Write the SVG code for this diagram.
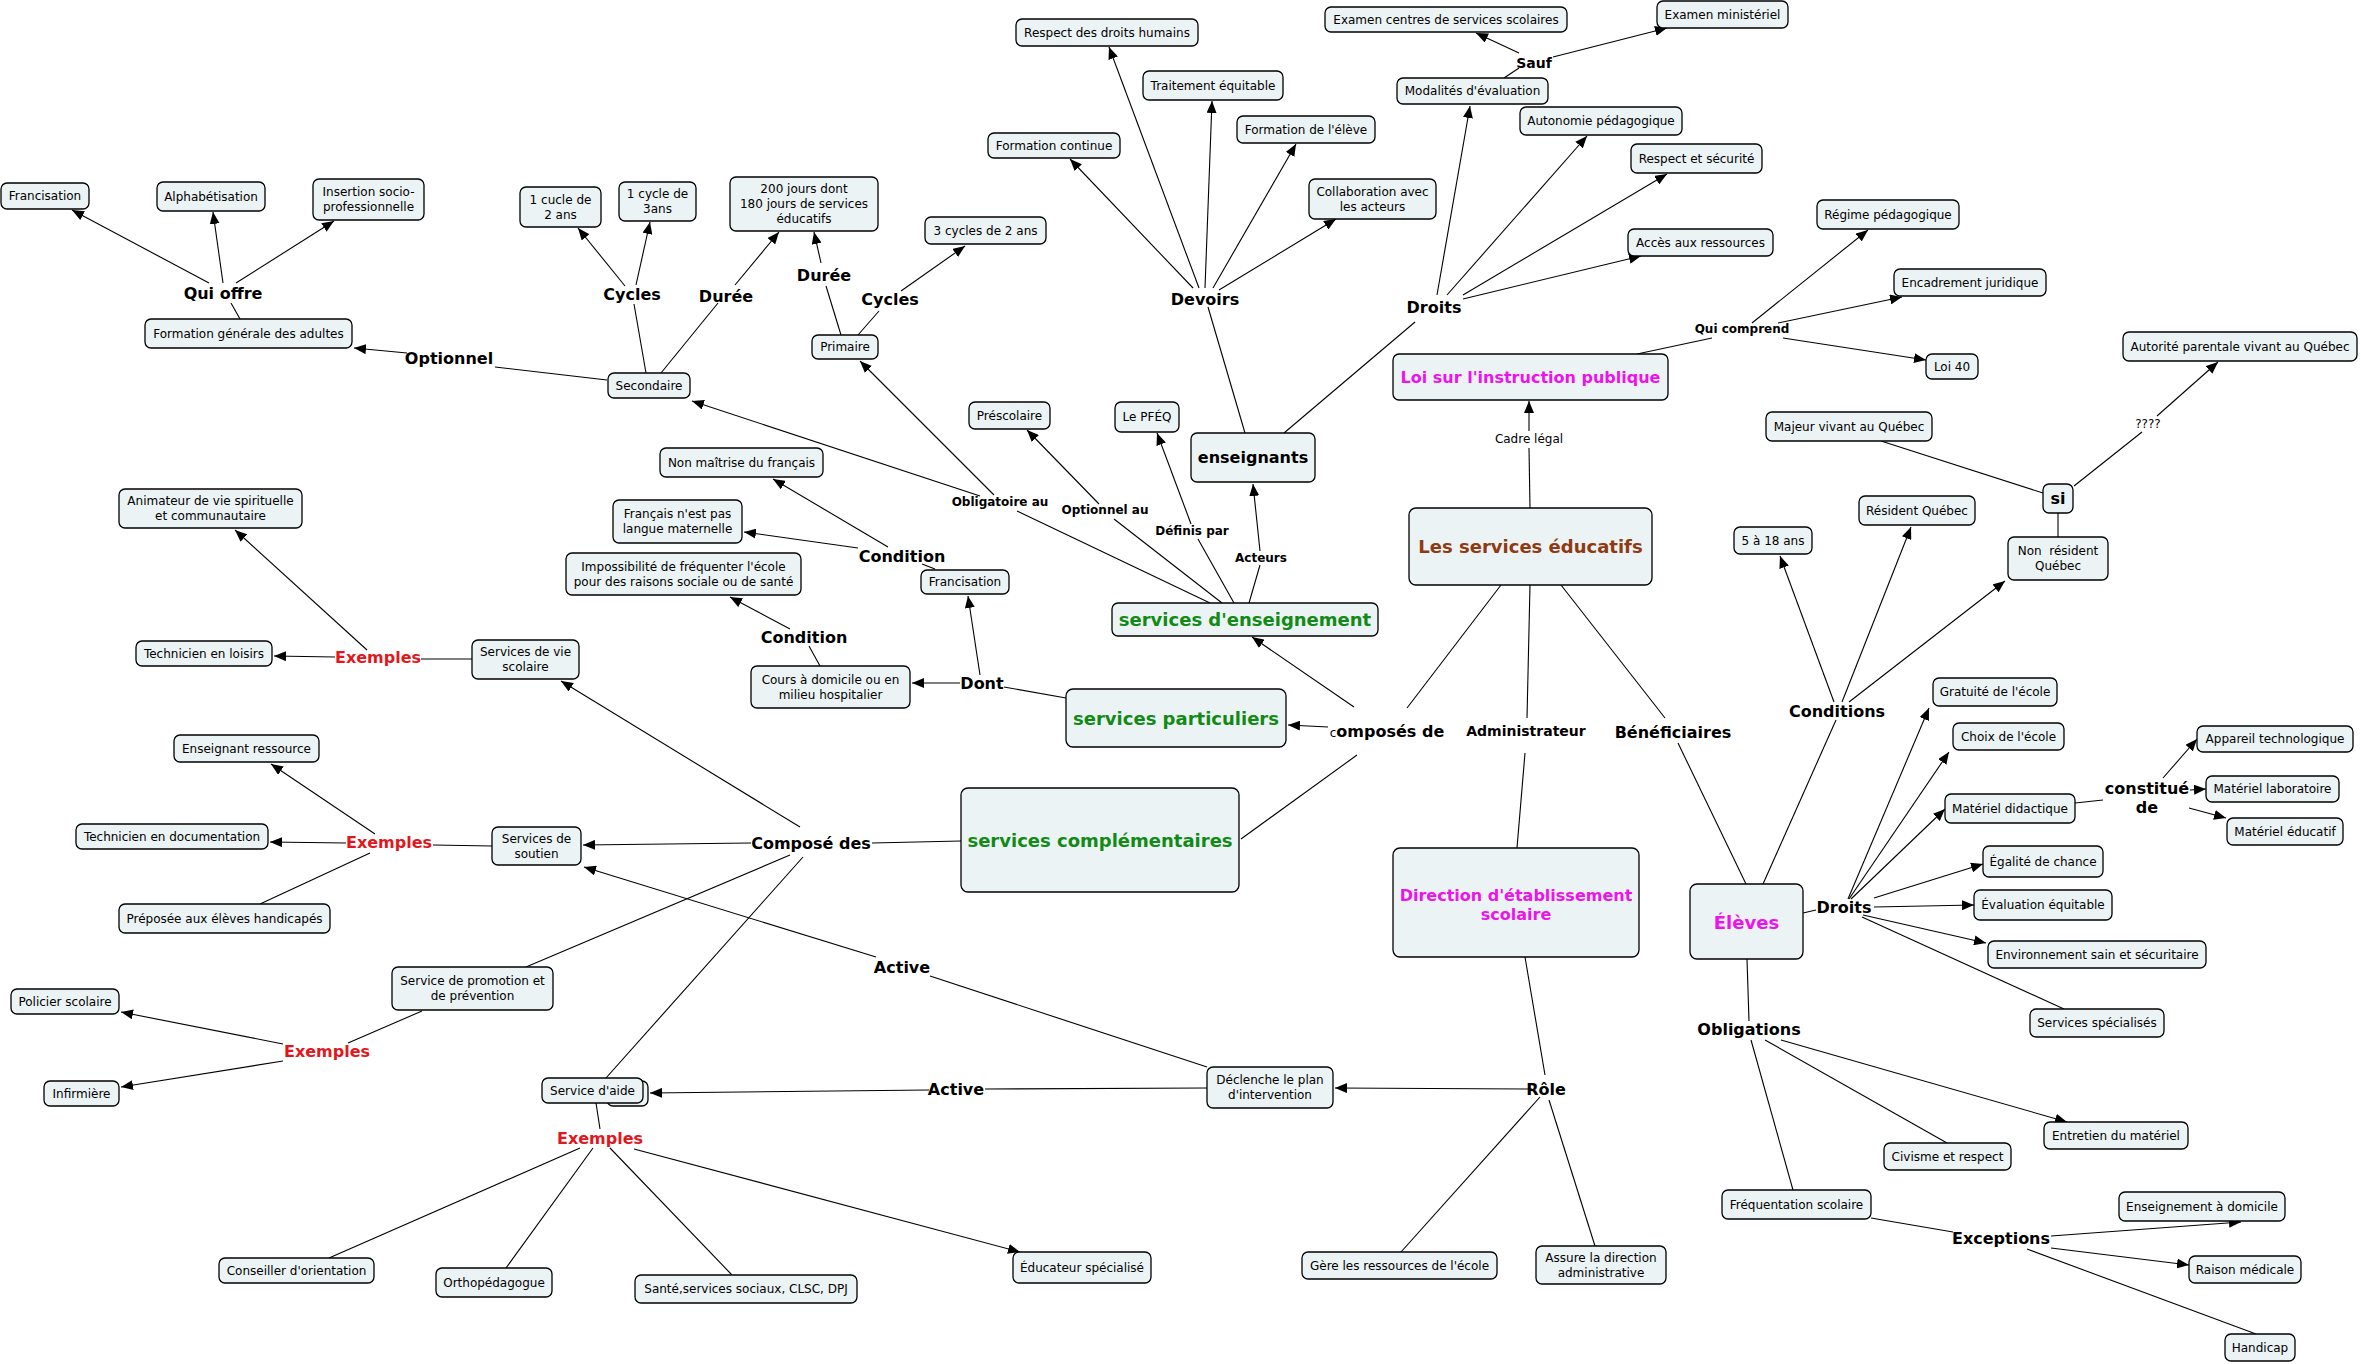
<svg xmlns="http://www.w3.org/2000/svg" width="2361" height="1364" viewBox="0 0 2361 1364">
<defs>
<marker id="ar" markerWidth="12" markerHeight="10" refX="12" refY="5" orient="auto" markerUnits="userSpaceOnUse"><path d="M0,0 L12,5 L0,10 z" fill="#000"/></marker>
</defs>
<style>
.n rect{fill:#ECF3F4;stroke:#000;stroke-width:1.3}
text{font-family:"DejaVu Sans",Verdana,sans-serif;fill:#000;text-anchor:middle}
.t{font-size:12px}
.b{font-weight:bold;font-size:16px}
.s{font-weight:bold;font-size:12px}
.m14{font-weight:bold;font-size:14px}
.h18{font-weight:bold;font-size:18px}
.red{fill:#E3161D}
.grn{fill:#118A16}
.mag{fill:#EE12EE}
.brn{fill:#8F3A12}
.nl{font-size:12px;font-weight:normal}
#connectors line{stroke:#000;stroke-width:1.1}
#connectors line.a{marker-end:url(#ar)}
</style>
<rect width="2361" height="1364" fill="#fff"/>
<g id="connectors">
<line x1="1530" y1="508" x2="1529" y2="448"/>
<line class="a" x1="1529" y1="431" x2="1529" y2="401"/>
<line x1="1501" y1="585" x2="1407" y2="708"/>
<line x1="1530" y1="585" x2="1527" y2="718"/>
<line x1="1561" y1="585" x2="1665" y2="718"/>
<line x1="1678" y1="743" x2="1746" y2="884"/>
<line class="a" x1="1354" y1="707" x2="1252" y2="637"/>
<line class="a" x1="1328" y1="727" x2="1288" y2="725"/>
<line x1="1357" y1="755" x2="1241" y2="839"/>
<line x1="1525" y1="753" x2="1517" y2="848"/>
<line x1="1525" y1="957" x2="1545" y2="1075"/>
<line class="a" x1="1532" y1="1089" x2="1335" y2="1088"/>
<line x1="1540" y1="1097" x2="1401" y2="1252"/>
<line x1="1549" y1="1100" x2="1595" y2="1246"/>
<line x1="1207" y1="1088" x2="985" y2="1089"/>
<line class="a" x1="929" y1="1090" x2="650" y2="1093"/>
<line x1="1207" y1="1067" x2="930" y2="976"/>
<line class="a" x1="876" y1="957" x2="584" y2="867"/>
<line x1="961" y1="841" x2="872" y2="843"/>
<line class="a" x1="751" y1="843" x2="583" y2="845"/>
<line class="a" x1="800" y1="827" x2="561" y2="681"/>
<line x1="790" y1="855" x2="526" y2="967"/>
<line x1="803" y1="857" x2="606" y2="1078"/>
<line x1="472" y1="659" x2="421" y2="659"/>
<line class="a" x1="335" y1="657" x2="274" y2="656"/>
<line class="a" x1="367" y1="650" x2="235" y2="530"/>
<line x1="492" y1="846" x2="433" y2="845"/>
<line class="a" x1="346" y1="843" x2="270" y2="842"/>
<line class="a" x1="375" y1="834" x2="271" y2="764"/>
<line x1="370" y1="853" x2="260" y2="904"/>
<line x1="422" y1="1011" x2="348" y2="1043"/>
<line class="a" x1="283" y1="1044" x2="121" y2="1012"/>
<line class="a" x1="283" y1="1061" x2="121" y2="1087"/>
<line x1="596" y1="1103" x2="600" y2="1129"/>
<line x1="580" y1="1148" x2="329" y2="1258"/>
<line x1="593" y1="1148" x2="506" y2="1268"/>
<line x1="610" y1="1148" x2="732" y2="1275"/>
<line class="a" x1="634" y1="1149" x2="1020" y2="1252"/>
<line x1="1066" y1="698" x2="1004" y2="687"/>
<line class="a" x1="960" y1="683" x2="912" y2="683"/>
<line class="a" x1="980" y1="675" x2="968" y2="596"/>
<line x1="820" y1="666" x2="809" y2="646"/>
<line class="a" x1="790" y1="629" x2="730" y2="597"/>
<line x1="935" y1="569" x2="922" y2="564"/>
<line class="a" x1="858" y1="548" x2="744" y2="532"/>
<line class="a" x1="888" y1="547" x2="773" y2="479"/>
<line x1="1210" y1="603" x2="1017" y2="511"/>
<line class="a" x1="980" y1="496" x2="692" y2="401"/>
<line class="a" x1="994" y1="495" x2="860" y2="361"/>
<line x1="1222" y1="603" x2="1114" y2="519"/>
<line class="a" x1="1099" y1="504" x2="1027" y2="430"/>
<line x1="1234" y1="603" x2="1198" y2="539"/>
<line class="a" x1="1191" y1="524" x2="1157" y2="433"/>
<line x1="1249" y1="603" x2="1260" y2="565"/>
<line class="a" x1="1260" y1="551" x2="1253" y2="484"/>
<line x1="1245" y1="433" x2="1208" y2="307"/>
<line class="a" x1="1193" y1="288" x2="1070" y2="159"/>
<line class="a" x1="1199" y1="288" x2="1109" y2="47"/>
<line class="a" x1="1205" y1="288" x2="1212" y2="101"/>
<line class="a" x1="1213" y1="288" x2="1296" y2="144"/>
<line class="a" x1="1219" y1="290" x2="1336" y2="219"/>
<line x1="1284" y1="433" x2="1415" y2="322"/>
<line class="a" x1="1437" y1="295" x2="1470" y2="106"/>
<line class="a" x1="1447" y1="295" x2="1587" y2="136"/>
<line class="a" x1="1463" y1="295" x2="1667" y2="174"/>
<line class="a" x1="1463" y1="299" x2="1641" y2="256"/>
<line x1="1504" y1="78" x2="1519" y2="68"/>
<line class="a" x1="1519" y1="53" x2="1476" y2="33"/>
<line class="a" x1="1553" y1="57" x2="1667" y2="28"/>
<line x1="1637" y1="354" x2="1712" y2="338"/>
<line class="a" x1="1752" y1="323" x2="1868" y2="230"/>
<line class="a" x1="1778" y1="323" x2="1902" y2="297"/>
<line class="a" x1="1783" y1="338" x2="1926" y2="360"/>
<line x1="1881" y1="441" x2="2043" y2="493"/>
<line x1="2074" y1="486" x2="2142" y2="432"/>
<line class="a" x1="2157" y1="416" x2="2218" y2="362"/>
<line x1="2058" y1="513" x2="2058" y2="537"/>
<line x1="1763" y1="884" x2="1836" y2="720"/>
<line class="a" x1="1834" y1="702" x2="1780" y2="556"/>
<line class="a" x1="1842" y1="702" x2="1911" y2="527"/>
<line class="a" x1="1849" y1="702" x2="2005" y2="581"/>
<line x1="1803" y1="913" x2="1816" y2="910"/>
<line class="a" x1="1848" y1="899" x2="1929" y2="708"/>
<line class="a" x1="1849" y1="899" x2="1949" y2="752"/>
<line class="a" x1="1851" y1="899" x2="1945" y2="809"/>
<line class="a" x1="1874" y1="898" x2="1983" y2="864"/>
<line class="a" x1="1874" y1="907" x2="1974" y2="905"/>
<line class="a" x1="1863" y1="915" x2="1986" y2="943"/>
<line x1="1862" y1="917" x2="2064" y2="1009"/>
<line x1="2075" y1="803" x2="2103" y2="800"/>
<line class="a" x1="2163" y1="778" x2="2197" y2="739"/>
<line class="a" x1="2190" y1="790" x2="2206" y2="789"/>
<line class="a" x1="2189" y1="808" x2="2226" y2="818"/>
<line x1="1747" y1="959" x2="1749" y2="1021"/>
<line class="a" x1="1781" y1="1040" x2="2067" y2="1122"/>
<line x1="1765" y1="1040" x2="1947" y2="1143"/>
<line x1="1751" y1="1040" x2="1793" y2="1190"/>
<line x1="1871" y1="1218" x2="1953" y2="1232"/>
<line class="a" x1="2051" y1="1236" x2="2241" y2="1222"/>
<line class="a" x1="2051" y1="1248" x2="2189" y2="1265"/>
<line x1="2027" y1="1249" x2="2256" y2="1334"/>
<line x1="607" y1="380" x2="495" y2="367"/>
<line class="a" x1="407" y1="353" x2="354" y2="348"/>
<line x1="646" y1="373" x2="634" y2="304"/>
<line class="a" x1="625" y1="286" x2="578" y2="228"/>
<line class="a" x1="636" y1="285" x2="650" y2="222"/>
<line x1="661" y1="373" x2="718" y2="303"/>
<line class="a" x1="735" y1="285" x2="779" y2="232"/>
<line x1="240" y1="319" x2="231" y2="303"/>
<line class="a" x1="209" y1="283" x2="72" y2="210"/>
<line class="a" x1="223" y1="283" x2="213" y2="212"/>
<line class="a" x1="236" y1="283" x2="334" y2="221"/>
<line x1="841" y1="335" x2="826" y2="286"/>
<line class="a" x1="821" y1="263" x2="814" y2="232"/>
<line x1="858" y1="335" x2="879" y2="311"/>
<line class="a" x1="901" y1="291" x2="965" y2="246"/>
</g>
<g id="nodes">
<g id="n-francisation1" class="n"><rect x="1" y="183" width="88" height="26" rx="6"/><text class="t" x="45" y="200.3">Francisation</text></g>
<g id="n-alpha" class="n"><rect x="157" y="182" width="108" height="29" rx="6"/><text class="t" x="211" y="200.8">Alphabétisation</text></g>
<g id="n-insertion" class="n"><rect x="313" y="179" width="111" height="41" rx="6"/><text class="t" x="368.5" y="196.3">Insertion socio-</text><text class="t" x="368.5" y="211.3">professionnelle</text></g>
<g id="n-fga" class="n"><rect x="145" y="319" width="207" height="29" rx="6"/><text class="t" x="248.5" y="337.8">Formation générale des adultes</text></g>
<g id="n-secondaire" class="n"><rect x="608" y="373" width="82" height="25" rx="6"/><text class="t" x="649" y="389.8">Secondaire</text></g>
<g id="n-1cucle" class="n"><rect x="520" y="187" width="81" height="40" rx="6"/><text class="t" x="560.5" y="203.8">1 cucle de</text><text class="t" x="560.5" y="218.8">2 ans</text></g>
<g id="n-1cycle3" class="n"><rect x="619" y="182" width="77" height="39" rx="6"/><text class="t" x="657.5" y="198.3">1 cycle de</text><text class="t" x="657.5" y="213.3">3ans</text></g>
<g id="n-200jours" class="n"><rect x="730" y="177" width="148" height="54" rx="6"/><text class="t" x="804" y="193.3">200 jours dont</text><text class="t" x="804" y="208.3">180 jours de services</text><text class="t" x="804" y="223.3">éducatifs</text></g>
<g id="n-primaire" class="n"><rect x="812" y="335" width="66" height="24" rx="6"/><text class="t" x="845" y="351.3">Primaire</text></g>
<g id="n-3cycles" class="n"><rect x="925" y="217" width="121" height="27" rx="6"/><text class="t" x="985.5" y="234.8">3 cycles de 2 ans</text></g>
<g id="n-formcont" class="n"><rect x="988" y="133" width="132" height="25" rx="6"/><text class="t" x="1054" y="149.8">Formation continue</text></g>
<g id="n-respdroits" class="n"><rect x="1016" y="19" width="182" height="27" rx="6"/><text class="t" x="1107" y="36.8">Respect des droits humains</text></g>
<g id="n-traitement" class="n"><rect x="1143" y="71" width="140" height="29" rx="6"/><text class="t" x="1213" y="89.8">Traitement équitable</text></g>
<g id="n-formeleve" class="n"><rect x="1237" y="116" width="138" height="27" rx="6"/><text class="t" x="1306" y="133.8">Formation de l'élève</text></g>
<g id="n-collab" class="n"><rect x="1309" y="179" width="127" height="40" rx="6"/><text class="t" x="1372.5" y="195.8">Collaboration avec</text><text class="t" x="1372.5" y="210.8">les acteurs</text></g>
<g id="n-modalites" class="n"><rect x="1397" y="78" width="151" height="26" rx="6"/><text class="t" x="1472.5" y="95.3">Modalités d'évaluation</text></g>
<g id="n-examcss" class="n"><rect x="1325" y="7" width="242" height="25" rx="6"/><text class="t" x="1446" y="23.8">Examen centres de services scolaires</text></g>
<g id="n-exammin" class="n"><rect x="1657" y="1" width="131" height="27" rx="6"/><text class="t" x="1722.5" y="18.8">Examen ministériel</text></g>
<g id="n-autonomie" class="n"><rect x="1520" y="107" width="162" height="28" rx="6"/><text class="t" x="1601" y="125.3">Autonomie pédagogique</text></g>
<g id="n-respsecu" class="n"><rect x="1631" y="144" width="131" height="29" rx="6"/><text class="t" x="1696.5" y="162.8">Respect et sécurité</text></g>
<g id="n-acces" class="n"><rect x="1628" y="229" width="145" height="27" rx="6"/><text class="t" x="1700.5" y="246.8">Accès aux ressources</text></g>
<g id="n-regime" class="n"><rect x="1817" y="200" width="142" height="29" rx="6"/><text class="t" x="1888" y="218.8">Régime pédagogique</text></g>
<g id="n-encadrement" class="n"><rect x="1894" y="269" width="152" height="27" rx="6"/><text class="t" x="1970" y="286.8">Encadrement juridique</text></g>
<g id="n-loi40" class="n"><rect x="1926" y="354" width="52" height="25" rx="6"/><text class="t" x="1952" y="370.8">Loi 40</text></g>
<g id="n-autorite" class="n"><rect x="2123" y="332" width="234" height="29" rx="6"/><text class="t" x="2240" y="350.8">Autorité parentale vivant au Québec</text></g>
<g id="n-majeur" class="n"><rect x="1766" y="412" width="166" height="29" rx="6"/><text class="t" x="1849" y="430.8">Majeur vivant au Québec</text></g>
<g id="n-si" class="n"><rect x="2043" y="484" width="30" height="29" rx="6"/><text class="b" x="2058" y="504.3">si</text></g>
<g id="n-resident" class="n"><rect x="1859" y="496" width="116" height="29" rx="6"/><text class="t" x="1917" y="514.8">Résident Québec</text></g>
<g id="n-5a18" class="n"><rect x="1734" y="527" width="78" height="27" rx="6"/><text class="t" x="1773" y="544.8">5 à 18 ans</text></g>
<g id="n-nonresident" class="n"><rect x="2008" y="537" width="100" height="43" rx="6"/><text class="t" x="2058" y="555.3">Non&#160; résident</text><text class="t" x="2058" y="570.3">Québec</text></g>
<g id="n-loi" class="n"><rect x="1393" y="354" width="275" height="46" rx="6"/><text class="b mag" x="1530.5" y="382.8">Loi sur l'instruction publique</text></g>
<g id="n-lse" class="n"><rect x="1409" y="508" width="243" height="77" rx="7"/><text class="h18 brn" x="1530.5" y="553">Les services éducatifs</text></g>
<g id="n-enseignants" class="n"><rect x="1191" y="433" width="124" height="49" rx="6"/><text class="b" x="1253" y="463.3">enseignants</text></g>
<g id="n-prescolaire" class="n"><rect x="969" y="402" width="81" height="27" rx="6"/><text class="t" x="1009.5" y="419.8">Préscolaire</text></g>
<g id="n-pfeq" class="n"><rect x="1115" y="402" width="64" height="30" rx="6"/><text class="t" x="1147" y="421.3">Le PFÉQ</text></g>
<g id="n-nonmaitrise" class="n"><rect x="660" y="448" width="163" height="29" rx="6"/><text class="t" x="741.5" y="466.8">Non maîtrise du français</text></g>
<g id="n-francaisnest" class="n"><rect x="613" y="500" width="129" height="43" rx="6"/><text class="t" x="677.5" y="518.3">Français n'est pas</text><text class="t" x="677.5" y="533.3">langue maternelle</text></g>
<g id="n-impossibilite" class="n"><rect x="566" y="553" width="235" height="42" rx="6"/><text class="t" x="683.5" y="570.8">Impossibilité de fréquenter l'école</text><text class="t" x="683.5" y="585.8">pour des raisons sociale ou de santé</text></g>
<g id="n-francisation2" class="n"><rect x="921" y="570" width="88" height="24" rx="6"/><text class="t" x="965" y="586.3">Francisation</text></g>
<g id="n-cours" class="n"><rect x="751" y="666" width="159" height="42" rx="6"/><text class="t" x="830.5" y="683.8">Cours à domicile ou en</text><text class="t" x="830.5" y="698.8">milieu hospitalier</text></g>
<g id="n-sens" class="n"><rect x="1112" y="603" width="266" height="33" rx="6"/><text class="h18 grn" x="1245" y="626">services d'enseignement</text></g>
<g id="n-spart" class="n"><rect x="1066" y="689" width="220" height="58" rx="7"/><text class="h18 grn" x="1176" y="724.5">services particuliers</text></g>
<g id="n-scomp" class="n"><rect x="961" y="788" width="278" height="104" rx="7"/><text class="h18 grn" x="1100" y="846.5">services complémentaires</text></g>
<g id="n-animateur" class="n"><rect x="119" y="489" width="183" height="39" rx="6"/><text class="t" x="210.5" y="505.3">Animateur de vie spirituelle</text><text class="t" x="210.5" y="520.3">et communautaire</text></g>
<g id="n-techloisirs" class="n"><rect x="136" y="641" width="136" height="25" rx="6"/><text class="t" x="204" y="657.8">Technicien en loisirs</text></g>
<g id="n-svie" class="n"><rect x="472" y="640" width="107" height="39" rx="6"/><text class="t" x="525.5" y="656.3">Services de vie</text><text class="t" x="525.5" y="671.3">scolaire</text></g>
<g id="n-ensress" class="n"><rect x="174" y="735" width="145" height="27" rx="6"/><text class="t" x="246.5" y="752.8">Enseignant ressource</text></g>
<g id="n-techdoc" class="n"><rect x="76" y="824" width="192" height="25" rx="6"/><text class="t" x="172" y="840.8">Technicien en documentation</text></g>
<g id="n-soutien" class="n"><rect x="492" y="827" width="89" height="38" rx="6"/><text class="t" x="536.5" y="842.8">Services de</text><text class="t" x="536.5" y="857.8">soutien</text></g>
<g id="n-preposee" class="n"><rect x="119" y="904" width="211" height="29" rx="6"/><text class="t" x="224.5" y="922.8">Préposée aux élèves handicapés</text></g>
<g id="n-promotion" class="n"><rect x="392" y="967" width="161" height="43" rx="6"/><text class="t" x="472.5" y="985.3">Service de promotion et</text><text class="t" x="472.5" y="1000.3">de prévention</text></g>
<g id="n-policier" class="n"><rect x="11" y="989" width="108" height="25" rx="6"/><text class="t" x="65" y="1005.8">Policier scolaire</text></g>
<g id="n-infirmiere" class="n"><rect x="44" y="1081" width="75" height="25" rx="6"/><text class="t" x="81.5" y="1097.8">Infirmière</text></g>
<g id="n-aide" class="n"><rect x="607" y="1081" width="41" height="25" rx="6"/><rect x="542" y="1078" width="101" height="25" rx="6"/><text class="t" x="592.5" y="1094.8">Service d'aide</text></g>
<g id="n-conseiller" class="n"><rect x="219" y="1258" width="155" height="25" rx="6"/><text class="t" x="296.5" y="1274.8">Conseiller d'orientation</text></g>
<g id="n-ortho" class="n"><rect x="436" y="1268" width="116" height="29" rx="6"/><text class="t" x="494" y="1286.8">Orthopédagogue</text></g>
<g id="n-sante" class="n"><rect x="635" y="1275" width="222" height="28" rx="6"/><text class="t" x="746" y="1293.3">Santé,services sociaux, CLSC, DPJ</text></g>
<g id="n-educ" class="n"><rect x="1013" y="1252" width="138" height="31" rx="6"/><text class="t" x="1082" y="1271.8">Éducateur spécialisé</text></g>
<g id="n-declenche" class="n"><rect x="1207" y="1067" width="126" height="41" rx="6"/><text class="t" x="1270" y="1084.3">Déclenche le plan</text><text class="t" x="1270" y="1099.3">d'intervention</text></g>
<g id="n-gere" class="n"><rect x="1302" y="1252" width="195" height="27" rx="6"/><text class="t" x="1399.5" y="1269.8">Gère les ressources de l'école</text></g>
<g id="n-assure" class="n"><rect x="1536" y="1246" width="130" height="38" rx="6"/><text class="t" x="1601" y="1261.8">Assure la direction</text><text class="t" x="1601" y="1276.8">administrative</text></g>
<g id="n-direction" class="n"><rect x="1393" y="848" width="246" height="109" rx="7"/><text class="b mag" x="1516" y="900.8">Direction d'établissement</text><text class="b mag" x="1516" y="919.8">scolaire</text></g>
<g id="n-eleves" class="n"><rect x="1690" y="884" width="113" height="75" rx="7"/><text class="h18 mag" x="1746.5" y="929">Élèves</text></g>
<g id="n-gratuite" class="n"><rect x="1933" y="678" width="124" height="28" rx="6"/><text class="t" x="1995" y="696.3">Gratuité de l'école</text></g>
<g id="n-choix" class="n"><rect x="1953" y="723" width="111" height="27" rx="6"/><text class="t" x="2008.5" y="740.8">Choix de l'école</text></g>
<g id="n-matdid" class="n"><rect x="1945" y="794" width="130" height="29" rx="6"/><text class="t" x="2010" y="812.8">Matériel didactique</text></g>
<g id="n-appareil" class="n"><rect x="2197" y="726" width="156" height="26" rx="6"/><text class="t" x="2275" y="743.3">Appareil technologique</text></g>
<g id="n-matlabo" class="n"><rect x="2206" y="776" width="133" height="26" rx="6"/><text class="t" x="2272.5" y="793.3">Matériel laboratoire</text></g>
<g id="n-mateduc" class="n"><rect x="2227" y="818" width="116" height="27" rx="6"/><text class="t" x="2285" y="835.8">Matériel éducatif</text></g>
<g id="n-egalite" class="n"><rect x="1983" y="846" width="120" height="31" rx="6"/><text class="t" x="2043" y="865.8">Égalité de chance</text></g>
<g id="n-evaluation" class="n"><rect x="1974" y="890" width="138" height="30" rx="6"/><text class="t" x="2043" y="909.3">Évaluation équitable</text></g>
<g id="n-environnement" class="n"><rect x="1988" y="941" width="218" height="27" rx="6"/><text class="t" x="2097" y="958.8">Environnement sain et sécuritaire</text></g>
<g id="n-servspec" class="n"><rect x="2030" y="1009" width="134" height="28" rx="6"/><text class="t" x="2097" y="1027.3">Services spécialisés</text></g>
<g id="n-entretien" class="n"><rect x="2044" y="1122" width="144" height="27" rx="6"/><text class="t" x="2116" y="1139.8">Entretien du matériel</text></g>
<g id="n-civisme" class="n"><rect x="1884" y="1143" width="127" height="27" rx="6"/><text class="t" x="1947.5" y="1160.8">Civisme et respect</text></g>
<g id="n-frequentation" class="n"><rect x="1722" y="1190" width="149" height="29" rx="6"/><text class="t" x="1796.5" y="1208.8">Fréquentation scolaire</text></g>
<g id="n-ensdomicile" class="n"><rect x="2119" y="1192" width="166" height="29" rx="6"/><text class="t" x="2202" y="1210.8">Enseignement à domicile</text></g>
<g id="n-raison" class="n"><rect x="2189" y="1256" width="112" height="27" rx="6"/><text class="t" x="2245" y="1273.8">Raison médicale</text></g>
<g id="n-handicap" class="n"><rect x="2225" y="1334" width="70" height="27" rx="6"/><text class="t" x="2260" y="1351.8">Handicap</text></g>
</g>
<g id="linking-phrases">
<text id="l-quioffre" class="b" x="223" y="299">Qui offre</text>
<text id="l-optionnel" class="b" x="449" y="364">Optionnel</text>
<text id="l-cycles-sec" class="b" x="632" y="300">Cycles</text>
<text id="l-duree-sec" class="b" x="726" y="302">Durée</text>
<text id="l-duree-prim" class="b" x="824" y="281">Durée</text>
<text id="l-cycles-prim" class="b" x="890" y="305">Cycles</text>
<text id="l-devoirs" class="b" x="1205" y="305">Devoirs</text>
<text id="l-droits-ens" class="b" x="1434" y="313">Droits</text>
<text id="l-sauf" class="m14" x="1534" y="68">Sauf</text>
<text id="l-quicomprend" class="s" x="1742" y="333.3">Qui comprend</text>
<text id="l-cadre" class="t" x="1529" y="443.3">Cadre légal</text>
<text id="l-qqqq" class="t" x="2148" y="428.3">????</text>
<text id="l-obligatoire" class="s" x="1000" y="506.3">Obligatoire au</text>
<text id="l-optionnelau" class="s" x="1105" y="514.3">Optionnel au</text>
<text id="l-definis" class="s" x="1192" y="535.3">Définis par</text>
<text id="l-acteurs" class="s" x="1261" y="562.3">Acteurs</text>
<text id="l-condition1" class="b" x="902" y="561.8">Condition</text>
<text id="l-condition2" class="b" x="804" y="642.8">Condition</text>
<text id="l-dont" class="b" x="982" y="688.8">Dont</text>
<text id="l-composes" class="b" x="1387" y="736.8"><tspan class="nl" font-size="16">c</tspan>omposés de</text>
<text id="l-admin" class="m14" x="1526" y="736">Administrateur</text>
<text id="l-benef" class="b" x="1673" y="737.8">Bénéficiaires</text>
<text id="l-conditions" class="b" x="1837" y="716.8">Conditions</text>
<text id="l-droits-el" class="b" x="1844" y="912.8">Droits</text>
<text id="l-constitue" class="b" x="2147" y="793.8">constitué<tspan x="2147" y="812.8">de</tspan></text>
<text id="l-obligations" class="b" x="1749" y="1034.8">Obligations</text>
<text id="l-exceptions" class="b" x="2001" y="1243.8">Exceptions</text>
<text id="l-role" class="b" x="1546" y="1094.8">Rôle</text>
<text id="l-active1" class="b" x="956" y="1094.8">Active</text>
<text id="l-active2" class="b" x="902" y="972.8">Active</text>
<text id="l-compose" class="b" x="811" y="848.8">Composé des</text>
<text id="l-ex-vie" class="b red" x="378" y="662.8">Exemples</text>
<text id="l-ex-soutien" class="b red" x="389" y="847.8">Exemples</text>
<text id="l-ex-promo" class="b red" x="327" y="1056.8">Exemples</text>
<text id="l-ex-aide" class="b red" x="600" y="1143.8">Exemples</text>
</g>
</svg>
